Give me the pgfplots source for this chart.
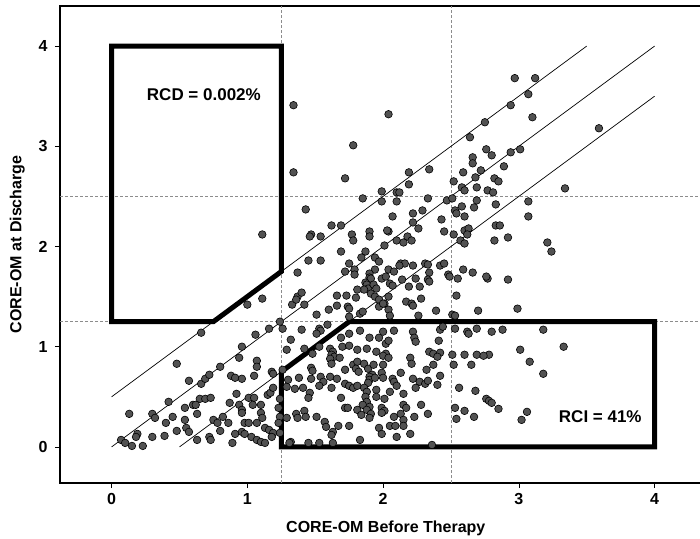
\documentclass[border=0pt]{standalone}
\usepackage{fontspec}
\setmainfont{Liberation Sans}
\usepackage{pgfplots}
\pgfplotsset{compat=1.18}

\begin{document}
\begin{tikzpicture}
\begin{axis}[
    name=ax,
    scale only axis,
    width=651.6pt, height=477pt,
    xmin=-0.38, xmax=4.42,
    ymin=-0.36, ymax=4.40,
    xtick={0,1,2,3,4}, ytick={0,1,2,3,4},
    tick align=outside,
    xtick pos=left, ytick pos=left,
    major tick length=5pt,
    tick style={black, line width=0.6pt},
    axis line style={line width=1.2pt},
    /pgf/number format/assume math mode=true,
    ticklabel style={font=\bfseries\fontsize{16}{19}\selectfont},
    yticklabel style={xshift=-4pt},
    xticklabel style={yshift=-2pt},
    label style={font=\bfseries\fontsize{16}{19}\selectfont},
    xlabel style={yshift=-4pt},
    ylabel style={yshift=2pt},
    xlabel={CORE-OM Before Therapy},
    ylabel={CORE-OM at Discharge},
    extra x ticks={1.25,2.5}, extra y ticks={1.25,2.5},
    extra x tick labels={}, extra y tick labels={},
    extra tick style={grid=major, major tick length=0pt,
        major grid style={densely dashed, black!45, line width=0.4pt}},
]
% scores: before therapy, at discharge
\addplot[only marks, mark=*, mark size=3.8pt,
    mark options={fill=black!68, draw=black, line width=0.6pt}]
table {
x y
1.00 1.42
1.11 1.48
0.66 1.14
1.06 1.12
1.16 1.18
1.24 1.25
1.26 1.18
1.32 1.07
1.29 0.97
0.96 1.00
0.94 0.89
1.07 0.86
1.07 0.80
0.48 0.83
0.57 0.66
0.66 0.63
0.69 0.68
0.72 0.72
0.80 0.80
0.88 0.71
0.91 0.69
0.96 0.68
1.05 0.71
1.18 0.75
1.26 0.77
0.42 0.45
0.65 0.48
0.69 0.48
0.73 0.49
0.54 0.39
0.60 0.42
0.62 0.42
0.63 0.33
0.54 0.27
0.45 0.30
0.40 0.24
0.48 0.16
0.55 0.19
0.57 0.15
0.30 0.33
0.32 0.29
0.13 0.33
0.19 0.13
0.18 0.10
0.30 0.10
0.39 0.11
0.07 0.07
0.10 0.04
0.15 0.01
0.23 0.01
0.63 0.07
0.72 0.10
0.73 0.07
0.75 0.27
0.78 0.24
0.82 0.30
0.87 0.44
0.92 0.53
0.86 0.24
0.80 0.16
0.91 0.13
0.96 0.15
0.98 0.13
0.89 0.04
0.94 0.42
0.96 0.37
0.96 0.34
1.01 0.49
1.05 0.49
1.04 0.42
1.10 0.42
1.10 0.34
1.11 0.29
0.98 0.24
1.01 0.24
1.07 0.24
1.03 0.10
1.07 0.07
1.10 0.05
1.13 0.04
1.13 0.19
1.16 0.17
1.19 0.14
1.18 0.10
1.15 0.52
1.17 0.54
1.19 0.59
1.19 0.73
1.24 0.48
1.23 0.39
1.24 0.30
1.23 0.24
1.24 0.14
1.29 0.60
1.30 0.67
1.32 0.05
1.33 1.42
1.37 1.50
1.34 3.41
2.04 3.32
1.78 3.01
1.34 2.74
1.72 2.68
1.99 2.55
1.99 2.45
2.10 2.54
2.10 2.45
1.85 2.48
1.43 2.37
1.11 2.12
2.07 2.30
1.62 2.21
1.69 2.21
1.47 2.12
1.46 2.10
1.54 2.10
1.77 2.12
1.78 2.06
1.90 2.15
1.90 2.10
2.04 2.15
2.10 2.06
2.01 2.01
1.69 1.95
1.87 1.95
1.84 1.89
1.94 1.89
1.45 1.86
1.54 1.86
1.75 1.83
1.94 1.77
2.04 1.77
2.08 1.75
1.72 1.75
1.79 1.77
1.79 1.72
1.90 1.73
1.90 1.69
1.37 1.74
2.94 3.41
3.10 3.29
3.59 3.18
2.75 3.24
2.64 3.09
2.76 2.97
2.80 2.91
2.94 2.94
3.01 2.97
2.66 2.89
2.66 2.83
2.89 2.80
2.19 2.74
2.19 2.62
2.34 2.77
2.59 2.74
2.72 2.76
2.68 2.69
2.52 2.65
2.82 2.68
2.85 2.65
2.58 2.59
2.60 2.56
2.69 2.59
2.77 2.56
2.81 2.54
3.34 2.58
2.12 2.54
2.33 2.48
2.47 2.46
2.51 2.48
2.69 2.46
2.29 2.36
2.22 2.33
2.58 2.40
2.53 2.36
2.54 2.33
2.67 2.39
2.60 2.30
2.83 2.42
3.07 2.45
3.07 2.30
2.43 2.27
2.22 2.24
2.26 2.18
2.03 2.16
2.45 2.15
2.60 2.16
2.63 2.18
2.62 2.12
2.83 2.21
2.86 2.21
2.92 2.09
2.82 2.06
2.52 2.12
2.57 2.06
2.60 2.03
3.21 2.04
3.24 1.95
2.15 2.04
2.18 2.10
2.21 2.06
2.13 1.83
2.16 1.83
2.22 1.81
2.31 1.83
2.33 1.82
2.34 1.74
2.42 1.81
2.45 1.83
2.48 1.72
2.59 1.77
2.66 1.74
2.14 1.67
2.24 1.68
2.33 1.67
2.55 1.68
2.77 1.68
2.92 1.67
2.97 3.68
3.12 3.68
3.07 3.52
1.97 1.85
1.91 1.68
1.87 1.64
1.88 1.62
1.89 1.58
1.86 1.57
1.93 1.62
1.95 1.58
1.99 1.68
2.02 1.70
1.81 1.57
1.40 1.54
1.36 1.47
1.42 1.42
1.66 1.51
1.73 1.51
1.80 1.49
1.91 1.53
1.94 1.50
1.97 1.47
2.04 1.50
1.74 1.40
1.75 1.38
1.83 1.33
1.85 1.35
1.97 1.40
2.01 1.43
1.60 1.37
1.66 1.41
1.51 1.32
1.75 1.30
1.40 1.17
1.53 1.18
1.54 1.16
1.51 1.13
1.59 1.22
1.69 1.09
1.75 1.13
1.83 1.16
1.90 1.09
1.97 1.09
2.02 1.03
1.42 0.98
1.61 0.98
1.63 0.95
1.62 0.92
1.64 0.90
1.70 1.00
1.75 1.01
1.81 0.97
1.88 0.98
1.95 0.95
2.02 0.93
1.53 1.00
1.48 0.93
1.61 0.88
1.68 0.89
1.62 0.83
1.47 0.79
1.48 0.76
1.72 0.77
1.78 0.82
1.81 0.85
1.80 0.78
1.82 0.75
1.86 0.83
1.89 0.78
1.93 0.82
1.92 0.72
1.90 0.70
1.90 0.67
1.89 0.64
1.94 0.69
1.99 0.74
2.00 0.69
1.38 0.69
1.47 0.68
1.54 0.70
1.61 0.70
1.66 0.68
1.56 0.65
1.53 0.61
1.35 0.58
1.41 0.59
1.62 0.59
1.72 0.63
1.75 0.61
1.78 0.59
1.81 0.61
1.86 0.59
1.88 0.55
1.87 0.50
1.88 0.45
1.85 0.42
1.90 0.40
1.88 0.37
1.95 0.57
1.95 0.50
1.46 0.54
1.45 0.49
1.69 0.49
1.72 0.39
1.74 0.39
1.81 0.37
1.84 0.32
1.91 0.33
1.90 0.29
1.36 0.33
1.37 0.29
1.42 0.36
1.43 0.30
1.29 0.29
1.51 0.30
1.57 0.25
1.58 0.20
1.63 0.15
1.62 0.12
1.67 0.21
1.75 0.21
1.97 0.19
1.99 0.13
1.83 0.07
1.45 0.04
1.53 0.04
1.63 0.04
1.31 0.04
2.12 1.81
2.49 1.70
2.76 1.70
2.05 1.63
2.07 1.61
2.19 1.60
2.27 1.60
2.34 1.65
2.00 1.43
2.04 1.37
2.05 1.31
2.17 1.45
2.21 1.43
2.22 1.41
2.28 1.48
2.54 1.51
2.39 1.36
2.51 1.32
2.53 1.31
2.70 1.36
2.26 1.31
2.00 1.15
2.08 1.16
2.22 1.15
2.23 1.09
2.24 1.05
2.04 1.06
2.42 1.17
2.44 1.20
2.41 1.06
2.53 1.18
2.62 1.15
2.63 1.13
2.69 1.18
2.00 0.91
2.04 0.89
2.20 0.89
2.34 0.95
2.37 0.93
2.42 0.94
2.40 0.90
2.51 0.92
2.60 0.92
2.69 0.92
2.78 0.92
2.00 0.82
2.21 0.83
2.37 0.82
2.52 0.82
2.65 0.82
2.32 0.77
2.42 0.71
2.13 0.74
2.07 0.68
2.08 0.65
2.10 0.61
2.22 0.68
2.27 0.65
2.24 0.59
2.31 0.63
2.33 0.66
2.40 0.62
2.05 0.55
2.15 0.53
2.01 0.48
2.56 0.59
2.68 0.56
2.76 0.48
2.78 0.46
1.99 0.39
2.01 0.36
1.99 0.34
2.15 0.42
2.17 0.39
2.28 0.42
2.33 0.33
2.23 0.30
2.08 0.30
2.13 0.33
2.15 0.27
2.53 0.39
2.54 0.28
2.60 0.36
2.67 0.30
2.05 0.21
2.09 0.21
2.15 0.21
2.10 0.10
2.20 0.13
2.36 0.02
2.99 1.38
2.80 1.15
2.88 1.17
3.18 1.17
2.74 0.91
3.01 0.97
3.08 0.85
3.18 0.73
3.33 1.00
2.80 0.44
2.85 0.38
3.02 0.27
3.06 0.35
};
% reliable change lines
\addplot[black, line width=0.7pt] coordinates {(0,0.5) (3.5,4)};
\addplot[black, line width=0.7pt] coordinates {(0,0) (4,4)};
\addplot[black, line width=0.7pt] coordinates {(0.5,0) (4,3.5)};
% clinically significant change regions
\addplot[black, line width=5pt, line join=miter]
    coordinates {(0,4) (1.25,4) (1.25,1.75) (0.75,1.25) (0,1.25)} -- cycle;
\addplot[black, line width=5pt, line join=miter]
    coordinates {(1.25,0) (4,0) (4,1.25) (1.75,1.25) (1.25,0.75)} -- cycle;
\node[font=\bfseries\fontsize{17}{20}\selectfont] at (axis cs:0.68,3.52) {RCD = 0.002\%};
\node[font=\bfseries\fontsize{17}{20}\selectfont] at (axis cs:3.60,0.30) {RCI = 41\%};
\end{axis}
\pgfresetboundingbox
\path[use as bounding box] ([xshift=-60pt,yshift=-55pt]ax.south west)
    rectangle ([xshift=640pt,yshift=6pt]ax.north west);
\end{tikzpicture}
\end{document}
